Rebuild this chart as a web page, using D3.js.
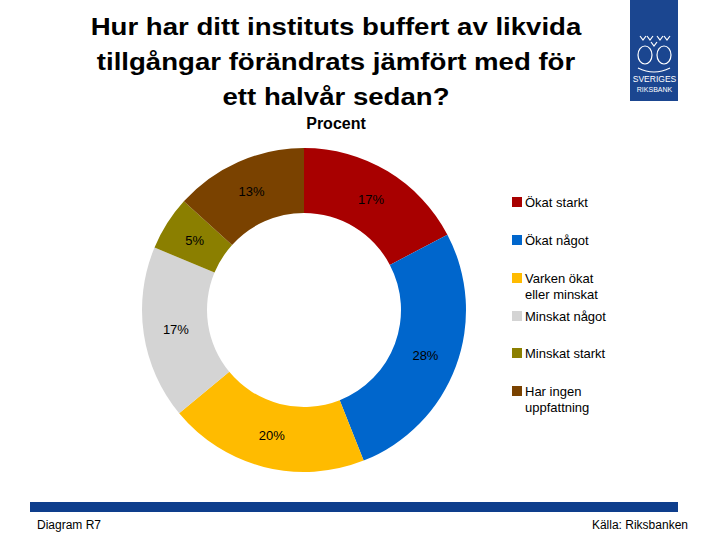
<!DOCTYPE html>
<html><head><meta charset="utf-8">
<script src="https://cdn.jsdelivr.net/npm/d3@7"></script>
<style>body{margin:0;background:#fff}svg{display:block}text{font-family:"Liberation Sans",Arial,sans-serif}</style>
</head><body>
<svg id="c" width="720" height="540"></svg>
<script>
const categories = ["Ökat starkt","Ökat något","Varken ökat eller minskat","Minskat något","Minskat starkt","Har ingen uppfattning"];
const legendLines = [["Ökat starkt"],["Ökat något"],["Varken ökat","eller minskat"],["Minskat något"],["Minskat starkt"],["Har ingen","uppfattning"]];
const values = [17.3,26.7,20.0,17.3,5.4,13.3];
const valueLabels = ["17%","28%","20%","17%","5%","13%"];
const colors = ["#A80000","#0066CC","#FFBB00","#D4D4D4","#8B7F00","#7A4200"];
const titleLines = ["Hur har ditt instituts buffert av likvida","tillgångar förändrats jämfört med för","ett halvår sedan?"];

const svg = d3.select("#c");
// title
svg.append("g").attr("transform","translate(336,0) scale(1.15,1)")
  .selectAll("text").data(titleLines).join("text")
  .attr("x",0).attr("y",(d,i)=>35+i*35).attr("text-anchor","middle")
  .attr("font-size",24).attr("font-weight","bold").attr("fill","#000").text(d=>d);
svg.append("text").attr("x",336).attr("y",129).attr("text-anchor","middle")
  .attr("font-size",16).attr("font-weight","bold").text("Procent");

// logo
const logo = svg.append("g");
logo.append("rect").attr("x",630).attr("y",0).attr("width",48).attr("height",101).attr("fill","#1B4690");
const em = logo.append("g").attr("fill","none").attr("stroke","#fff").attr("stroke-width",1.2);
em.append("ellipse").attr("cx",645).attr("cy",55).attr("rx",7).attr("ry",9);
em.append("ellipse").attr("cx",664).attr("cy",55).attr("rx",7).attr("ry",9);
em.append("path").attr("d","M640 36 l3 4 l3 -4 M647 36 l3 4 l3 -4 M657 36 l3 4 l3 -4 M664 36 l3 4 l3 -4 M651 42 l3 4 l3 -4");
em.append("path").attr("d","M638 68 q16 8 32 0");
logo.append("text").attr("x",654.5).attr("y",82).attr("text-anchor","middle").attr("font-size",8.5).attr("fill","#fff").text("SVERIGES");
logo.append("text").attr("x",654.5).attr("y",92).attr("text-anchor","middle").attr("font-size",7).attr("fill","#fff").text("RIKSBANK");

// donut
const cx=304, cy=310, rO=162, rI=97;
const pie = d3.pie().sort(null).value(d=>d)(values);
const arc = d3.arc().innerRadius(rI).outerRadius(rO);
const g = svg.append("g").attr("transform",`translate(${cx},${cy})`);
g.selectAll("path").data(pie).join("path").attr("d",arc).attr("fill",(d,i)=>colors[i]);
g.selectAll("text").data(pie).join("text")
  .attr("transform",d=>`translate(${arc.centroid(d)})`)
  .attr("text-anchor","middle").attr("dy","0.35em").attr("font-size",13).attr("fill","#000")
  .text((d,i)=>valueLabels[i]);

// legend
const legY = [202,240,278,316,353,391];
const lg = svg.append("g");
legendLines.forEach((lines,i)=>{
  lg.append("rect").attr("x",512).attr("y",legY[i]-5).attr("width",10).attr("height",10).attr("fill",colors[i]);
  lines.forEach((t,j)=>{
    lg.append("text").attr("x",525).attr("y",legY[i]+5+j*16).attr("font-size",13).attr("fill","#000").text(t);
  });
});

// footer
svg.append("rect").attr("x",30).attr("y",502).attr("width",648).attr("height",10).attr("fill","#0E3E8C");
svg.append("text").attr("x",37).attr("y",529).attr("font-size",12).text("Diagram R7");
svg.append("text").attr("x",688).attr("y",529).attr("font-size",12).attr("text-anchor","end").text("Källa: Riksbanken");
</script>
</body></html>
